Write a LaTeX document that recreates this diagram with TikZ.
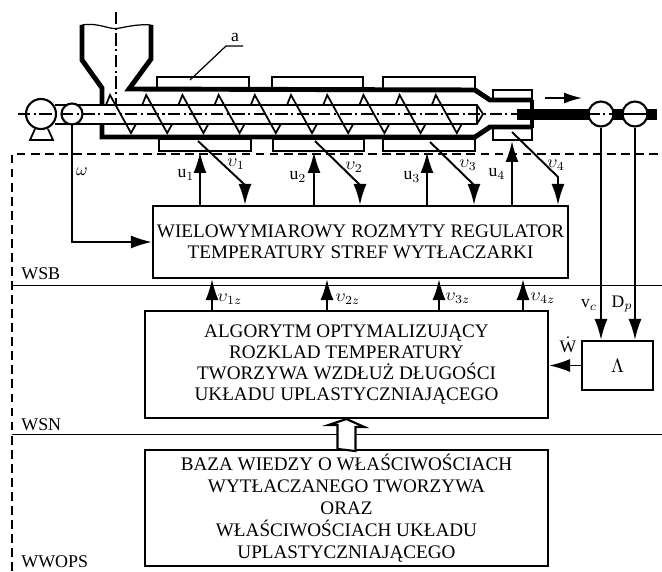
\documentclass[tikz,border=0pt]{standalone}
\usepackage{fontspec}
\setmainfont{Liberation Serif}
\usetikzlibrary{arrows.meta}
\tikzset{
  wall/.style={line width=2.8pt},
  thin line/.style={line width=1pt},
  centerline/.style={line width=0.6pt,dash pattern=on 7pt off 2pt on 1.2pt off 2pt},
  flow/.style={line width=1.1pt,-{Latex[length=0.42cm,width=0.26cm]}},
  blockbox/.style={draw,line width=1.2pt,align=center,inner sep=0pt,font=\fontsize{10.9}{12}\selectfont},
  tag/.style={inner sep=0pt,font=\fontsize{10}{11}\selectfont},
  zone/.style={inner sep=0pt,font=\fontsize{10.2}{11}\selectfont},
}
\begin{document}
\begin{tikzpicture}[x=0.02cm,y=-0.02cm]
  \useasboundingbox (0,0) rectangle (662,571);
  \draw[line width=0.8pt,dash pattern=on 5pt off 3pt] (12,571) -- (12,154) -- (662,154);
  \draw[line width=0.45pt] (12,285) -- (662,285);
  \draw[line width=0.45pt] (12,434) -- (662,434);
  \draw[centerline] (116,12) -- (116,105);
  \draw[wall] (82,25) -- (82,60) -- (102,88) -- (102,105);
  \draw[wall] (102,124) -- (102,137) -- (475,137) -- (490,127) -- (532,127);
  \draw[wall] (151,25) -- (151,59) -- (129,89) -- (475,90) -- (490,100) -- (532,100);
  \draw[line width=0.7pt] (82,25) .. controls (100,22) and (110,31) .. (120,28) .. controls (130,26) and (140,24) .. (151,25);
  \draw[thin line] (157,77) rectangle (249,89);
  \draw[thin line] (272,77) rectangle (363,89);
  \draw[thin line] (383,77) rectangle (475,89);
  \draw[thin line] (493,90) rectangle (532,100);
  \draw[thin line] (159,139) rectangle (251,151);
  \draw[thin line] (273,139) rectangle (364,151);
  \draw[thin line] (383,139) rectangle (475,151);
  \draw[thin line] (493,128) rectangle (532,140);
  \draw[wall] (532,100) -- (532,128);
  \draw[thin line] (55,105) -- (477,105) -- (483,114) -- (477,124) -- (55,124);
  \draw[thin line] (477,105) -- (477,124);
  \foreach \k in {0,...,9}
    \draw[thin line] (106+36.2*\k,105) -- (110+36.2*\k,95) -- (131+36.2*\k,133) -- (136+36.2*\k,124);
  \draw[centerline] (18,114) -- (517,114);
  \fill (517,109) rectangle (657,120);
  \draw[line width=1.2pt,fill=white] (41,114) circle (15);
  \draw[thin line] (35,129) -- (30,140) -- (53,140) -- (48,129);
  \draw[line width=1.2pt,fill=white] (72,114) circle (10.5);
  \draw[centerline] (18,114) -- (84,114);
  \node[circle,draw,fill=white,line width=1.2pt,minimum size=0.5cm,inner sep=0pt] (rollA) at (601,114) {};
  \node[circle,draw,fill=white,line width=1.2pt,minimum size=0.5cm,inner sep=0pt] (rollB) at (635,114) {};
  \draw[centerline] (rollA.west) -- (rollA.east);
  \draw[thin line] (rollB.west) -- (rollB.east);
  \draw[line width=1pt,-{Latex[length=0.36cm,width=0.22cm]}] (545,98) -- (582,98);
  \node[tag] (heatlabel) at (235,37) {a};
  \coordinate (heaterA) at (190,80);
  \draw[line width=0.7pt] (heaterA) -- (226,46) -- (243,46);
  \node[blockbox,minimum width=8.3cm,minimum height=1.44cm] (reg) at (360.5,242)
    {WIELOWYMIAROWY ROZMYTY REGULATOR\\TEMPERATURY STREF WYTŁACZARKI};
  \node[blockbox,minimum width=8.06cm,minimum height=2.14cm] (alg) at (346.5,364.5)
    {ALGORYTM OPTYMALIZUJĄCY\\ROZKLAD TEMPERATURY\\TWORZYWA WZDŁUŻ DŁUGOŚCI\\UKŁADU UPLASTYCZNIAJĄCEGO};
  \node[blockbox,minimum width=8.06cm,minimum height=2.32cm] (base) at (346.5,508)
    {BAZA WIEDZY O WŁAŚCIWOŚCIACH\\[0.6pt]WYTŁACZANEGO TWORZYWA\\[0.6pt]ORAZ\\[0.6pt]WŁAŚCIWOŚCIACH UKŁADU\\[0.6pt]UPLASTYCZNIAJĄCEGO};
  \node[blockbox,minimum width=1.42cm,minimum height=0.98cm] (lam) at (617.5,365.5) {$\Lambda$};
  \draw[line width=1.2pt,fill=white] (base.north) ++(-9,0) -- ++(0,-24) -- ++(-9,0) -- (alg.south) -- ++(18,8) -- ++(-9,0) -- ++(0,24) -- cycle;
  \coordinate (uA) at (200,152);
  \coordinate (uB) at (314,152);
  \coordinate (uC) at (427,152);
  \coordinate (uD) at (512,141);
  \draw[flow] (reg.north -| uA) -- (uA);
  \draw[flow] (reg.north -| uB) -- (uB);
  \draw[flow] (reg.north -| uC) -- (uC);
  \draw[flow] (reg.north -| uD) -- (uD);
  \coordinate (tA) at (198,141);
  \coordinate (tB) at (315,141);
  \coordinate (tC) at (430,142);
  \coordinate (tD) at (512,132);
  \coordinate (kA) at (245,185);
  \coordinate (kB) at (360,185);
  \coordinate (kC) at (474,185);
  \coordinate (kD) at (558,177);
  \draw[flow] (tA) -- (kA) -- (reg.north -| kA);
  \draw[flow] (tB) -- (kB) -- (reg.north -| kB);
  \draw[flow] (tC) -- (kC) -- (reg.north -| kC);
  \draw[flow] (tD) -- (kD) -- (reg.north -| kD);
  \coordinate (sA) at (212,0);
  \coordinate (sB) at (327,0);
  \coordinate (sC) at (439,0);
  \coordinate (sD) at (523,0);
  \draw[flow] (alg.north -| sA) -- (reg.south -| sA);
  \draw[flow] (alg.north -| sB) -- (reg.south -| sB);
  \draw[flow] (alg.north -| sC) -- (reg.south -| sC);
  \draw[flow] (alg.north -| sD) -- (reg.south -| sD);
  \coordinate (omega) at (72,242);
  \draw[flow] (72,124.5) -- (omega) -- (reg.west |- omega);
  \draw[flow] (rollA.south) -- (lam.north -| rollA);
  \draw[flow] (rollB.south) -- (lam.north -| rollB);
  \draw[flow] (lam.west) -- (alg.east |- lam.west);
  \node[tag] (wlabel) at (82,172) {$\omega$};
  \node[tag] (uAlabel) at (186,175) {u$_{1}$};
  \node[tag] (uBlabel) at (298,177) {u$_{2}$};
  \node[tag] (uClabel) at (412,177) {u$_{3}$};
  \node[tag] (uDlabel) at (497,174) {u$_{4}$};
  \node[tag] (tAlabel) at (236,164) {$\upsilon_{1}$};
  \node[tag] (tBlabel) at (354,167) {$\upsilon_{2}$};
  \node[tag] (tClabel) at (468,165) {$\upsilon_{3}$};
  \node[tag] (tDlabel) at (556,165) {$\upsilon_{4}$};
  \node[tag] (sAlabel) at (230,299) {$\upsilon_{1z}$};
  \node[tag] (sBlabel) at (348,299) {$\upsilon_{2z}$};
  \node[tag] (sClabel) at (458,298) {$\upsilon_{3z}$};
  \node[tag] (sDlabel) at (543,298) {$\upsilon_{4z}$};
  \node[tag] (vlabel) at (589,305) {v$_{c}$};
  \node[tag] (dlabel) at (622,304) {D$_{p}$};
  \node[tag] (wdot) at (568,345) {$\dot{\mathrm{W}}$};
  \node[zone,anchor=west] (wsb) at (21,274) {WSB};
  \node[zone,anchor=west] (wsn) at (21,425) {WSN};
  \node[zone,anchor=west] (wwops) at (21,562) {WWOPS};
\end{tikzpicture}
\end{document}
